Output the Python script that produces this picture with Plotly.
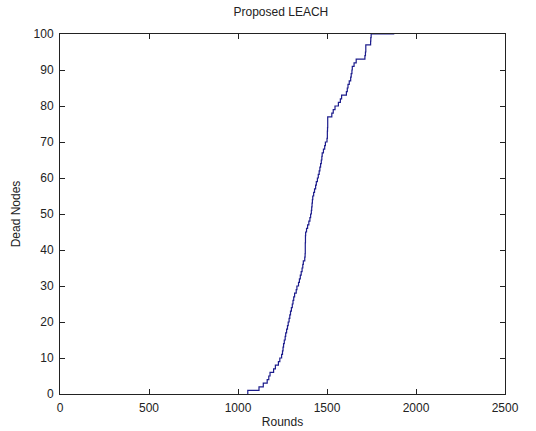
import plotly.graph_objects as go

# Round at which each successive node died (nodes 1..100)
death_rounds = [
    1055, 1118, 1142, 1164, 1173, 1180, 1200, 1210, 1227, 1235,
    1245, 1250, 1253, 1256, 1260, 1265, 1268, 1273, 1278, 1282,
    1287, 1291, 1295, 1300, 1305, 1309, 1313, 1318, 1327, 1331,
    1340, 1345, 1350, 1355, 1360, 1364, 1367, 1375, 1377, 1378,
    1378, 1378, 1379, 1379, 1380, 1385, 1391, 1398, 1404, 1408,
    1412, 1414, 1416, 1418, 1420, 1425, 1430, 1436, 1440, 1446,
    1451, 1456, 1460, 1464, 1468, 1471, 1473, 1480, 1487, 1491,
    1500, 1502, 1502, 1503, 1504, 1504, 1504, 1527, 1535, 1545,
    1564, 1575, 1582, 1609, 1614, 1618, 1625, 1633, 1636, 1640,
    1642, 1652, 1664, 1713, 1716, 1718, 1718, 1745, 1746, 1748,
]
last_round = 1878
dead_counts = list(range(1, len(death_rounds) + 1))

x_ticks = [0, 500, 1000, 1500, 2000, 2500]
y_ticks = [0, 10, 20, 30, 40, 50, 60, 70, 80, 90, 100]

xs = [death_rounds[0]] + death_rounds + [last_round]
ys = [0] + dead_counts + [dead_counts[-1]]

font_family = "Liberation Sans, Arial, sans-serif"

fig = go.Figure()
fig.add_trace(go.Scatter(
    x=xs, y=ys, mode="lines", line_shape="hv",
    line=dict(color="#1c1c8c", width=1.2),
    showlegend=False, hoverinfo="skip",
))

axis_common = dict(
    showline=True, linecolor="#222222", linewidth=1, mirror="ticks",
    ticks="inside", ticklen=5, tickcolor="#222222", tickwidth=1,
    showgrid=False, zeroline=False, automargin=False,
    tickfont=dict(family=font_family, size=12, color="#222222"),
)

fig.update_layout(
    width=536, height=431,
    margin=dict(l=60, r=31, t=34, b=37),
    paper_bgcolor="white", plot_bgcolor="white",
    font=dict(family=font_family, size=12, color="#222222"),
    title=dict(text="Proposed LEACH", x=0.524, xanchor="center",
               y=0.972, yanchor="middle",
               font=dict(family=font_family, size=12, color="#222222")),
    xaxis=dict(range=[0, 2500], tickvals=x_ticks, ticklabelstandoff=3,
               title=dict(text="Rounds", standoff=3,
                          font=dict(family=font_family, size=12)),
               **axis_common),
    yaxis=dict(range=[0, 100], tickvals=y_ticks, ticklabelstandoff=3,
               title=dict(text="Dead Nodes", standoff=10,
                          font=dict(family=font_family, size=12)),
               **axis_common),
)

fig.write_html("out.html")
